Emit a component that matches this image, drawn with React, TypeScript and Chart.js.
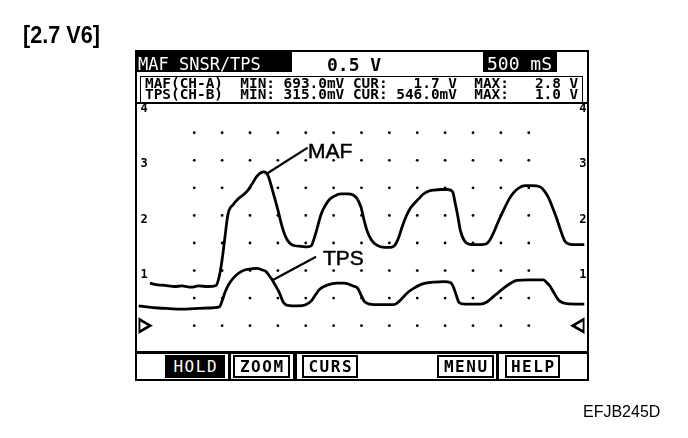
import React, { useEffect, useRef } from "react";
import { Chart, registerables } from "chart.js";

Chart.register(...registerables);

// ---- data (x in screen divisions, y in volts) ----
const mafX = [0.41, 0.7, 0.95, 1.3, 1.55, 1.9, 2.14, 2.5, 2.78, 2.9, 3.0, 3.1, 3.21, 3.4, 3.57, 3.75, 3.9, 4.05, 4.23, 4.4, 4.5, 4.64, 4.8, 5.0, 5.15, 5.27, 5.42, 5.6, 5.83, 6.05, 6.2, 6.3, 6.4, 6.55, 6.7, 6.85, 7.02, 7.25, 7.5, 7.7, 7.85, 7.98, 8.1, 8.2, 8.35, 8.55, 8.81, 9.05, 9.2, 9.32, 9.45, 9.6, 9.75, 9.9, 10.05, 10.2, 10.4, 10.6, 10.85, 11.1, 11.27, 11.35, 11.45, 11.55, 11.68, 11.85, 12.1, 12.45, 12.6, 12.75, 12.9, 13.1, 13.3, 13.45, 13.65, 13.87, 14.1, 14.4, 14.55, 14.7, 14.85, 15.0, 15.15, 15.3, 15.45, 15.7, 16.0];
const mafY = [0.77, 0.74, 0.73, 0.71, 0.72, 0.7, 0.72, 0.71, 0.73, 0.9, 1.2, 1.6, 2.02, 2.2, 2.3, 2.37, 2.44, 2.55, 2.7, 2.78, 2.79, 2.73, 2.47, 2.1, 1.8, 1.62, 1.5, 1.45, 1.44, 1.43, 1.45, 1.58, 1.75, 2.02, 2.18, 2.29, 2.35, 2.39, 2.39, 2.37, 2.3, 2.15, 1.9, 1.72, 1.56, 1.46, 1.42, 1.42, 1.46, 1.58, 1.78, 1.98, 2.13, 2.22, 2.3, 2.38, 2.44, 2.46, 2.47, 2.47, 2.43, 2.25, 2.0, 1.72, 1.55, 1.48, 1.47, 1.48, 1.55, 1.7, 1.88, 2.1, 2.3, 2.41, 2.5, 2.54, 2.54, 2.52, 2.45, 2.33, 2.15, 1.95, 1.72, 1.53, 1.48, 1.47, 1.47];

const tpsX = [0.0, 0.3, 0.71, 1.1, 1.55, 2.0, 2.5, 2.9, 3.0, 3.1, 3.25, 3.45, 3.65, 3.81, 4.05, 4.22, 4.45, 4.58, 4.7, 4.76, 4.9, 5.06, 5.2, 5.35, 5.7, 6.0, 6.2, 6.35, 6.5, 6.8, 7.1, 7.38, 7.7, 7.86, 7.98, 8.1, 8.3, 8.6, 9.17, 9.35, 9.52, 9.7, 9.88, 10.1, 10.3, 10.6, 10.95, 11.2, 11.3, 11.4, 11.5, 11.7, 12.26, 12.5, 12.74, 12.95, 13.1, 13.35, 13.57, 14.0, 14.52, 14.65, 14.76, 14.9, 15.06, 15.2, 15.36, 16.0];
const tpsY = [0.36, 0.34, 0.32, 0.31, 0.3, 0.31, 0.32, 0.34, 0.45, 0.6, 0.76, 0.89, 0.97, 1.01, 1.03, 1.04, 1.01, 0.98, 0.9, 0.86, 0.74, 0.59, 0.42, 0.37, 0.36, 0.38, 0.45, 0.56, 0.66, 0.74, 0.77, 0.77, 0.72, 0.68, 0.56, 0.44, 0.39, 0.38, 0.38, 0.44, 0.53, 0.62, 0.68, 0.74, 0.77, 0.79, 0.8, 0.78, 0.7, 0.55, 0.42, 0.39, 0.39, 0.43, 0.53, 0.62, 0.68, 0.77, 0.82, 0.83, 0.83, 0.78, 0.72, 0.6, 0.47, 0.42, 0.4, 0.39];

const dotCols = [2, 3, 4, 5, 6, 7, 8, 9, 10, 11, 12, 13, 14];
const dotRows = [0, 0.5, 1, 1.5, 2, 2.5, 3, 3.5];
const yTicks = [1, 2, 3, 4];
const yTickLabels = ["1", "2", "3", "4"];
const markerX = [0.15, 15.85];
const markerY = [0, 0];
const markerRot = [90, 270];
const mafLeaderX = [4.64, 6.07];
const mafLeaderY = [2.77, 3.23];
const tpsLeaderX = [4.82, 6.37];
const tpsLeaderY = [0.83, 1.25];

const title = "[2.7 V6]";
const headerName = "MAF SNSR/TPS";
const voltsDiv = "0.5 V";
const timeDiv = "500 mS";
const channelNames = ["MAF(CH-A)", "TPS(CH-B)"];
const channelMin = ["693.0mV", "315.0mV"];
const channelCur = ["1.7 V", "546.0mV"];
const channelMax = ["2.8 V", "1.0 V"];
const buttons = ["HOLD", "ZOOM", "CURS", "MENU", "HELP"];
const figureCode = "EFJB245D";

const MONO = '"DejaVu Sans Mono", "Liberation Mono", monospace';
const SANS = '"Liberation Sans", Arial, sans-serif';

function Txt(props: { x: number; base: number; size: number; text: string; color?: string; bold?: boolean; font?: string; style?: React.CSSProperties }) {
  const { x, base, size, text, color, bold, font, style } = props;
  return (
    <span
      style={{
        position: "absolute",
        left: x,
        top: base - 0.846 * size,
        fontSize: size,
        lineHeight: `${size}px`,
        fontFamily: font || MONO,
        fontWeight: bold ? "bold" : "normal",
        color: color || "#000",
        whiteSpace: "pre",
        ...style,
      }}
    >
      {text}
    </span>
  );
}

function Box(props: { x: number; y: number; w: number; h: number; style?: React.CSSProperties; children?: React.ReactNode }) {
  return (
    <div
      style={{
        position: "absolute",
        left: props.x,
        top: props.y,
        width: props.w,
        height: props.h,
        boxSizing: "border-box",
        ...props.style,
      }}
    >
      {props.children}
    </div>
  );
}

function Button(props: { x: number; w: number; label: string; inverted?: boolean }) {
  const { x, w, label, inverted } = props;
  return (
    <Box
      x={x}
      y={355}
      w={w}
      h={23}
      style={{
        background: inverted ? "#000" : "#fff",
        border: inverted ? "none" : "2.5px solid #000",
        display: "flex",
        alignItems: "center",
        justifyContent: "center",
        color: inverted ? "#fff" : "#000",
        fontFamily: MONO,
        fontWeight: inverted ? "normal" : "bold",
        fontSize: 16,
        letterSpacing: inverted ? 1.5 : 1.5,
        paddingLeft: 1.5,
      }}
    >
      {label}
    </Box>
  );
}

export default function App() {
  const ref = useRef<HTMLCanvasElement | null>(null);

  useEffect(() => {
    const canvas = ref.current;
    if (!canvas) return;
    const dots: { x: number; y: number }[] = [];
    dotRows.forEach((r) => dotCols.forEach((c) => dots.push({ x: c, y: r })));

    const tickCfg = {
      mirror: true,
      padding: 2,
      align: "start",
      labelOffset: -2,
      color: "#000",
      font: { family: MONO, size: 12, weight: "bold" },
      callback: (v: any) => yTickLabels[yTicks.indexOf(Number(v))] ?? "",
    };

    const chart = new Chart(canvas, {
      type: "line",
      data: {
        datasets: [
          {
            label: "MAF",
            data: mafX.map((x, i) => ({ x, y: mafY[i] })),
            borderColor: "#000",
            borderWidth: 2.8,
            pointRadius: 0,
            cubicInterpolationMode: "monotone",
            fill: false,
          },
          {
            label: "TPS",
            data: tpsX.map((x, i) => ({ x, y: tpsY[i] })),
            borderColor: "#000",
            borderWidth: 2.8,
            pointRadius: 0,
            cubicInterpolationMode: "monotone",
            fill: false,
          },
          {
            label: "MAF leader",
            data: mafLeaderX.map((x, i) => ({ x, y: mafLeaderY[i] })),
            borderColor: "#000",
            borderWidth: 2.2,
            pointRadius: 0,
            fill: false,
          },
          {
            label: "TPS leader",
            data: tpsLeaderX.map((x, i) => ({ x, y: tpsLeaderY[i] })),
            borderColor: "#000",
            borderWidth: 2.2,
            pointRadius: 0,
            fill: false,
          },
          {
            type: "scatter",
            label: "ground",
            data: markerX.map((x, i) => ({ x, y: markerY[i] })),
            pointStyle: "triangle",
            pointRotation: markerRot,
            pointRadius: 7.5,
            pointBackgroundColor: "#fff",
            pointBorderColor: "#000",
            pointBorderWidth: 2.8,
            showLine: false,
          },
          {
            type: "scatter",
            label: "grid",
            data: dots,
            pointRadius: 1.4,
            pointBackgroundColor: "#000",
            pointBorderWidth: 0,
            showLine: false,
          },
        ] as any,
      },
      options: {
        animation: false,
        responsive: false,
        devicePixelRatio: 1,
        events: [],
        layout: { padding: { left: 134.5, right: 99.5, top: 103, bottom: 87 } },
        plugins: { legend: { display: false }, tooltip: { enabled: false } },
        scales: {
          x: { type: "linear", min: 0, max: 16, display: false },
          y: {
            type: "linear",
            position: "left",
            min: -0.46,
            max: 4.04,
            grid: { display: false, drawTicks: false },
            border: { display: false },
            afterBuildTicks: (axis: any) => {
              axis.ticks = yTicks.map((v) => ({ value: v }));
            },
            ticks: tickCfg,
          },
          y2: {
            type: "linear",
            position: "right",
            min: -0.46,
            max: 4.04,
            grid: { display: false, drawTicks: false },
            border: { display: false },
            afterBuildTicks: (axis: any) => {
              axis.ticks = yTicks.map((v) => ({ value: v }));
            },
            ticks: tickCfg,
          },
        },
      } as any,
    });
    return () => chart.destroy();
  }, []);

  const row = (i: number) =>
    `${channelNames[i]}  MIN: ${channelMin[i]} CUR: ${channelCur[i].padStart(7)}  MAX: ${channelMax[i].padStart(7)}`;

  return (
    <div style={{ position: "absolute", left: 0, top: 0, width: 688, height: 438, overflow: "hidden", background: "#fff" }}>
      <canvas ref={ref} width={688} height={438} style={{ position: "absolute", left: 0, top: 0, width: 688, height: 438 }} />

      <Txt x={23} base={43} size={24} text={title} bold font={SANS} style={{ transform: "scaleX(0.9)", transformOrigin: "0 0" }} />

      {/* outer frame */}
      <Box x={135} y={49.5} w={454} h={331} style={{ border: "2.5px solid #000" }} />

      {/* header row 1 */}
      <Box x={135} y={50} w={157} h={22} style={{ background: "#000" }} />
      <Txt x={138} base={70.5} size={17} text={headerName} color="#fff" />
      <Txt x={327} base={71.7} size={18} text={voltsDiv} bold />
      <Box x={483} y={50} w={74} h={22} style={{ background: "#000" }} />
      <Txt x={487} base={70} size={18} text={timeDiv} color="#fff" />

      {/* channel rows */}
      <Box x={140} y={76} w={443} h={27} style={{ borderTop: "1.5px solid #000", borderLeft: "1.5px solid #000", borderRight: "1.5px solid #000" }} />
      <Txt x={145} base={88.5} size={14.4} text={row(0)} bold />
      <Txt x={145} base={99.5} size={14.4} text={row(1)} bold />

      {/* plot top / bottom borders */}
      <Box x={135} y={101.5} w={454} h={2} style={{ background: "#000" }} />
      <Box x={135} y={351} w={454} h={2.5} style={{ background: "#000" }} />

      {/* annotation labels */}
      <Txt x={308} base={158} size={21} text="MAF" font={SANS} style={{ WebkitTextStroke: "0.5px #000" }} />
      <Txt x={323} base={265} size={21} text="TPS" font={SANS} style={{ WebkitTextStroke: "0.5px #000" }} />

      {/* bottom buttons */}
      <Button x={165} w={60} label={buttons[0]} inverted />
      <Box x={228} y={353} w={3} h={27} style={{ background: "#000" }} />
      <Button x={233} w={57} label={buttons[1]} />
      <Box x={293} y={353} w={4} h={27} style={{ background: "#000" }} />
      <Button x={302} w={56} label={buttons[2]} />
      <Button x={437} w={57} label={buttons[3]} />
      <Box x={496} y={353} w={3} h={27} style={{ background: "#000" }} />
      <Button x={505} w={55} label={buttons[4]} />

      <Txt x={583} base={418} size={16} text={figureCode} font={SANS} />
    </div>
  );
}
